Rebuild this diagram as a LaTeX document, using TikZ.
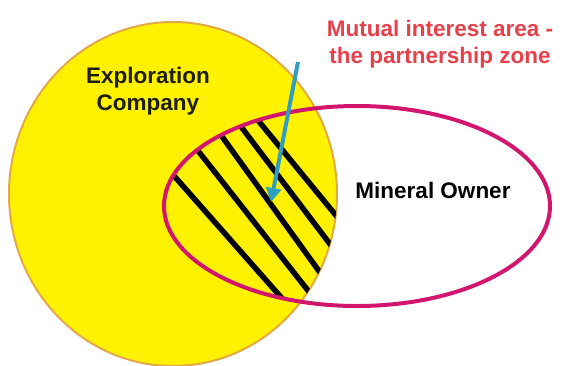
\documentclass[tikz,border=0pt]{standalone}
\usepackage{fontspec}
\setmainfont{Liberation Sans}
\usetikzlibrary{arrows.meta}
\definecolor{venyellow}{RGB}{255,242,0}
\definecolor{venrim}{RGB}{226,170,70}
\definecolor{venmagenta}{RGB}{210,22,110}
\definecolor{venteal}{RGB}{48,158,190}
\definecolor{venred}{RGB}{232,64,74}
\definecolor{ventext}{RGB}{30,30,10}
\tikzset{
  label text/.style={font=\bfseries\fontsize{22.5}{27}\selectfont, align=center, inner sep=0pt},
  hatch/.style={line width=5.5pt, black, line cap=round},
  pointer/.style={line width=4pt, venteal, -{Triangle[length=14pt,width=15pt]}}
}
\begin{document}
\begin{tikzpicture}[x=1pt,y=-1pt]
  \useasboundingbox (0,0) rectangle (564,365);
  % Exploration company set
  \fill[venyellow, draw=venrim, line width=2pt] (173,194) ellipse [x radius=164, y radius=172];
  % Hatching of the shared region
  \begin{scope}
    \clip (173,194) ellipse [x radius=164, y radius=172];
    \clip (357,206) ellipse [x radius=193, y radius=100];
    \draw[hatch] (168,169) -- (287,304);
    \draw[hatch] (188,138) -- (317,302);
    \draw[hatch] (218,131) -- (329,285);
    \draw[hatch] (236,120) -- (336,252);
    \draw[hatch] (252,113) -- (343,224);
  \end{scope}
  % Mineral owner set
  \draw[venmagenta, line width=4pt] (357,206) ellipse [x radius=193, y radius=100];
  % Labels
  \node[label text, text=ventext] (company) at (148,91) {Exploration\\Company};
  \node[label text, text=black] (owner) at (433,190) {Mineral Owner};
  \node[label text, text=venred] (zone) at (440,44) {Mutual interest area -\\the partnership zone};
  % Pointer into the shared region
  \coordinate (tail) at (298,62);
  \coordinate (tip) at (271,202);
  \draw[pointer] (tail) -- (tip);
\end{tikzpicture}
\end{document}
